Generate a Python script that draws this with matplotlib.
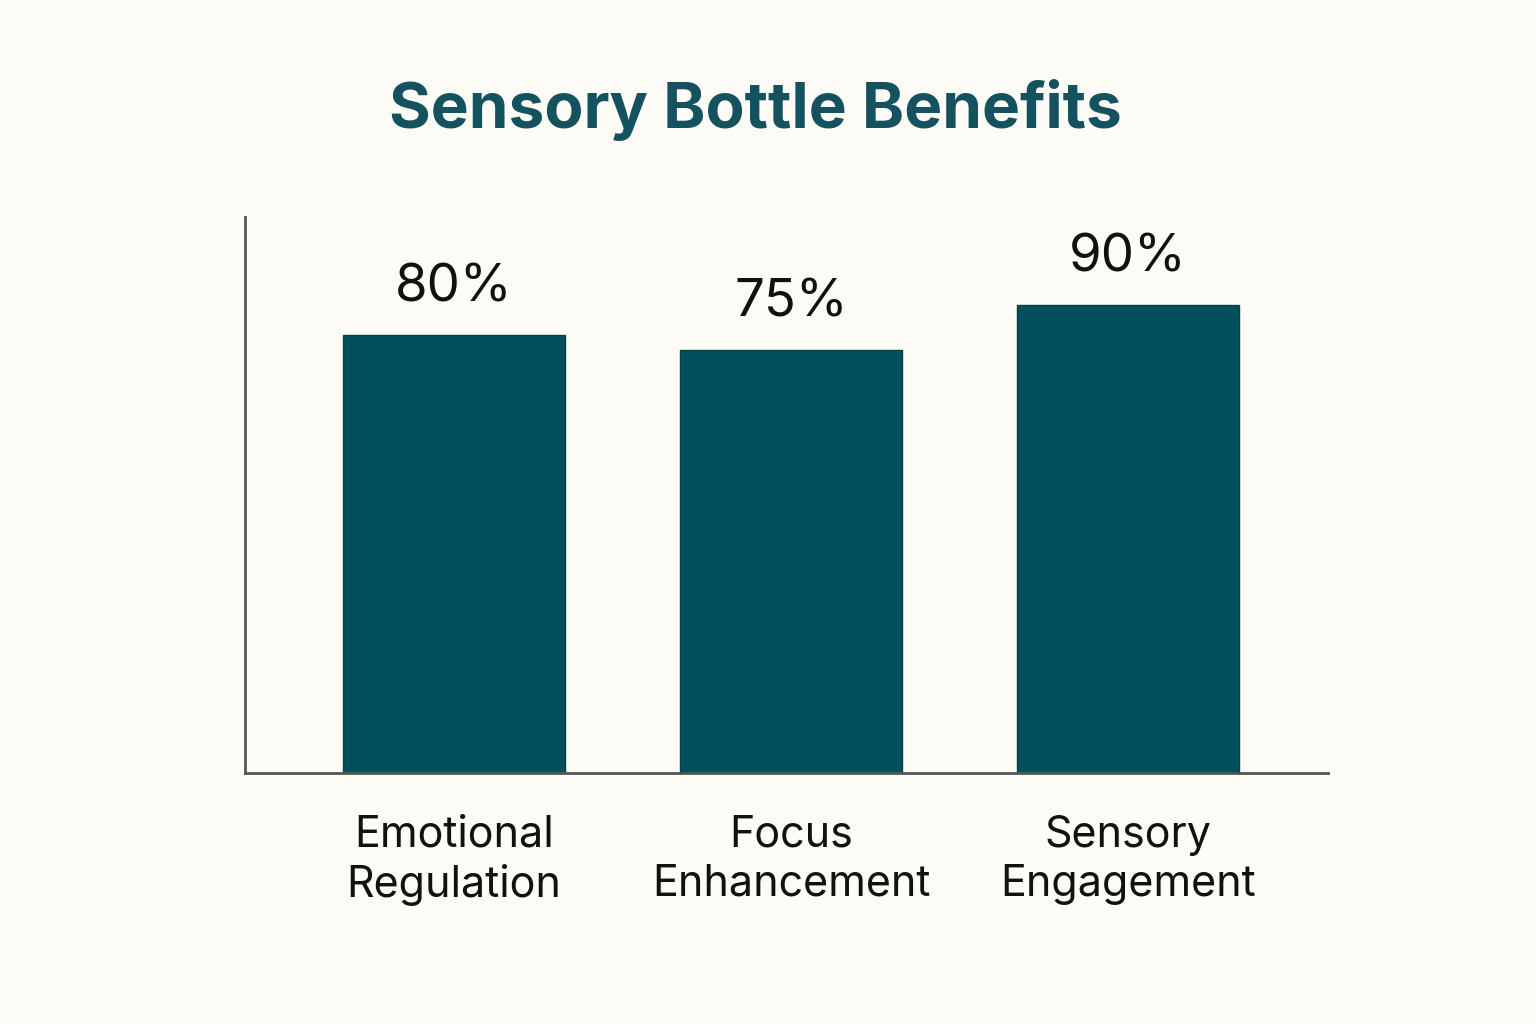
import matplotlib.pyplot as plt

categories = ["Emotional\nRegulation", "Focus\nEnhancement", "Sensory\nEngagement"]
values = [80, 75, 90]
labels = ["80%", "75%", "90%"]

base = -66
bg = "#fcfbf6"
bar_color = "#03505c"
title_color = "#14525f"

plt.rcParams['font.family'] = ['Inter', 'DejaVu Sans']

fig = plt.figure(figsize=(15.36, 10.24), dpi=100, facecolor=bg)
ax = fig.add_axes([0.1595, 0.2451, 0.7051, 0.543], facecolor=bg)

x = range(len(values))
bars = ax.bar(x, [v - base for v in values], bottom=base, width=0.66,
              color=bar_color, edgecolor="#0b3f47", linewidth=1)
for xi, v, lab in zip(x, values, labels):
    ax.annotate(lab, (xi, v), xytext=(0, 16), textcoords="offset points",
                ha="center", va="bottom", fontsize=38, color="#111111")

ax.set_xlim(-0.62, 2.593)
ax.set_ylim(base, 119.3)
ax.set_xticks(list(x))
ax.set_xticklabels(categories, fontsize=31, color="#111111", linespacing=1.25)
ax.tick_params(axis="x", length=0, pad=30)
ax.set_yticks([])
for s in ["top", "right"]:
    ax.spines[s].set_visible(False)
for s in ["left", "bottom"]:
    ax.spines[s].set_color("#555555")
    ax.spines[s].set_linewidth(2)

fig.text(0.492, 0.893, "Sensory Bottle Benefits", ha="center", va="center",
         fontsize=46, fontweight="bold", color=title_color)

fig.savefig("out.png", dpi=100, facecolor=bg)
